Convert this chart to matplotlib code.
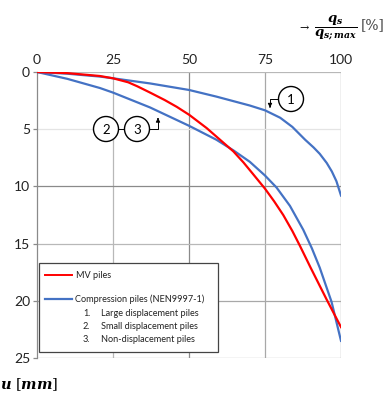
import matplotlib
matplotlib.use("Agg")
import matplotlib.pyplot as plt
from matplotlib.patches import Circle, Rectangle, FancyArrowPatch
from matplotlib.lines import Line2D

plt.rcParams['font.family'] = ['Lato', 'DejaVu Sans']
plt.rcParams['mathtext.fontset'] = 'dejavuserif'

# ---- data (q_s/q_s;max [%], u [mm]) ----
mv_x = [0, 10, 20.7, 25, 30, 33, 37.2, 42, 46, 50.1, 55.8, 60.2, 64.6, 67.9, 71, 75, 78, 81, 84, 86.5, 90, 95.3, 100]
mv_u = [0, 0.1, 0.35, 0.55, 0.9, 1.25, 1.8, 2.45, 3.05, 3.75, 4.9, 5.92, 6.94, 7.9, 8.9, 10.2, 11.3, 12.5, 13.9, 15.2, 17.1, 19.9, 22.3]

large_x = [0, 10, 20.7, 25, 37.2, 50, 59, 70, 75, 80, 84, 88.2, 91, 93, 95.3, 97, 98.5, 100]
large_u = [0, 0.15, 0.4, 0.55, 1.0, 1.57, 2.15, 2.93, 3.35, 4.0, 4.8, 5.92, 6.6, 7.15, 7.95, 8.7, 9.55, 10.8]

small_x = [0, 10, 20.7, 25, 37.2, 50, 59, 64.6, 70, 75, 78.8, 83.2, 87.6, 90.4, 93, 96.9, 100]
small_u = [0, 0.6, 1.4, 1.8, 3.1, 4.7, 5.92, 6.85, 7.85, 9.05, 10.1, 11.7, 13.8, 15.4, 17.1, 20.1, 23.5]

xticks = [0, 25, 50, 75, 100]
yticks = [0, 5, 10, 15, 20, 25]

legend_main = ["MV piles", "Compression piles (NEN9997-1)"]
legend_sub = [("1.", "Large displacement piles"),
              ("2.", "Small displacement piles"),
              ("3.", "Non-displacement piles")]

RED = '#ff0000'
BLUE = '#4472c4'

W, H = 387, 396
fig = plt.figure(figsize=(W / 100, H / 100), dpi=100)

L, R, T, B = 37, 341, 72, 358
ax = fig.add_axes([L / W, 1 - B / H, (R - L) / W, (B - T) / H])
ax.set_xlim(0, 100)
ax.set_ylim(25, 0)

# grid lines with differing shades
vcols = {25: '#b8b8b8', 50: '#8a8a8a', 75: '#a8a8a8', 100: '#8a8a8a'}
for xv, c in vcols.items():
    ax.axvline(xv, color=c, lw=0.9, zorder=1)
hcols = {0: '#b8b8b8', 5: '#e4e4e4', 10: '#8a8a8a', 15: '#b8b8b8', 20: '#a8a8a8', 25: '#a8a8a8'}
for yv, c in hcols.items():
    ax.axhline(yv, color=c, lw=0.9, zorder=1)

for s in ['top', 'right', 'bottom']:
    ax.spines[s].set_visible(False)
ax.spines['left'].set_color('#8a8a8a')
ax.spines['left'].set_linewidth(0.9)

ax.xaxis.tick_top()
ax.set_xticks(xticks)
ax.set_yticks(yticks)
ax.tick_params(axis='x', length=0, pad=4, labelsize=10, colors='#222222')
ax.tick_params(axis='y', length=3, width=0.9, color='#8a8a8a', pad=2, labelsize=10, colors='#222222')
ax.set_xticklabels([str(v) for v in xticks])
ax.set_yticklabels([str(v) for v in yticks])

ax.plot(large_x, large_u, color=BLUE, lw=1.6, zorder=3, solid_joinstyle='round')
ax.plot(small_x, small_u, color=BLUE, lw=1.6, zorder=3, solid_joinstyle='round')
ax.plot(mv_x, mv_u, color=RED, lw=1.6, zorder=4, solid_joinstyle='round')


def P(x, y):
    return (x / 100, (H - y) / 100)


tr = fig.dpi_scale_trans

# annotation circles
def circ(cx, cy, label):
    c = Circle(P(cx, cy), 12.5 / 100, transform=tr, facecolor='white',
               edgecolor='black', lw=1.0, zorder=10)
    fig.add_artist(c)
    fig.text(*P(cx, cy + 0.5), label, transform=tr, ha='center', va='center',
             fontsize=9.5, zorder=11)

circ(291, 99, '1')
circ(106, 129, '2')
circ(137, 129, '3')

def pline(pts, **kw):
    xs = [P(*p)[0] for p in pts]
    ys = [P(*p)[1] for p in pts]
    fig.add_artist(Line2D(xs, ys, transform=tr, color='black', lw=0.7, **kw))

pline([(118.5, 129), (124.5, 129)])
# arrow 1
pline([(278.5, 99), (270, 99), (270, 106)])
fig.add_artist(FancyArrowPatch(P(270, 104), P(270, 110.5), transform=tr,
                               arrowstyle='-|>', mutation_scale=6, color='black', lw=0.7))
# arrow 2-3
pline([(149.5, 129), (158, 129), (158, 120)])
fig.add_artist(FancyArrowPatch(P(158, 122), P(158, 115), transform=tr,
                               arrowstyle='-|>', mutation_scale=6, color='black', lw=0.7))

# legend box
x0, y0, x1, y1 = 39, 263, 218, 352
fig.add_artist(Rectangle(P(x0, y1), (x1 - x0) / 100, (y1 - y0) / 100, transform=tr,
                         facecolor='white', edgecolor='#444444', lw=0.9, zorder=8))
fig.add_artist(Line2D([P(45, 0)[0], P(72, 0)[0]], [P(0, 275)[1]] * 2, transform=tr,
                      color=RED, lw=1.4, zorder=9))
fig.add_artist(Line2D([P(45, 0)[0], P(72, 0)[0]], [P(0, 299)[1]] * 2, transform=tr,
                      color=BLUE, lw=1.6, zorder=9))
fig.text(*P(76, 275), legend_main[0], transform=tr, fontsize=6.6, va='center', zorder=9, color='#222222')
fig.text(*P(75, 299), legend_main[1], transform=tr, fontsize=6.6, va='center', zorder=9, color='#222222')
for i, (num, txt) in enumerate(legend_sub):
    yy = 314 + i * 12.7
    fig.text(*P(83, yy), num, transform=tr, fontsize=6.6, va='center', zorder=9, color='#222222')
    fig.text(*P(101, yy), txt, transform=tr, fontsize=6.6, va='center', zorder=9, color='#222222')

# axis titles
fig.text(*P(297, 27), r'$\rightarrow$', transform=tr, fontsize=8, va='center', ha='left')
fig.text(*P(336, 28), r'$\dfrac{\mathbfit{q_s}}{\mathbfit{q_{s;max}}}$',
         transform=tr, fontsize=9.5, va='center', ha='center')
fig.text(*P(361, 25), '[%]', transform=tr, fontsize=10, va='center', ha='left',
         family='DejaVu Serif', color='#444444')
fig.text(*P(0, 385), r'$\mathbfit{u}\ [\mathbfit{mm}]$', transform=tr, fontsize=10.5,
         va='center', ha='left')

fig.savefig('out.png', dpi=100)
